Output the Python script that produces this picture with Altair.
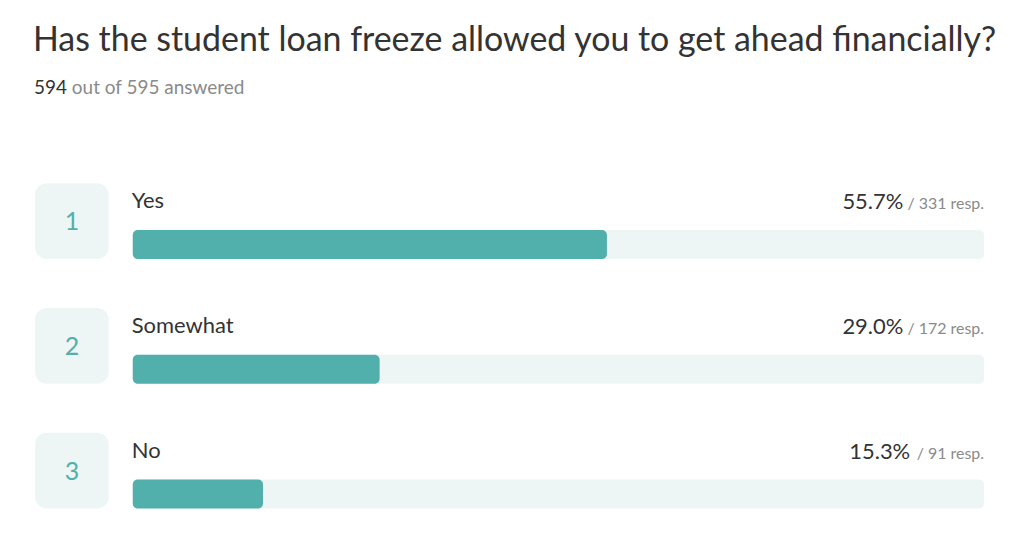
import altair as alt
import pandas as pd

title_text = "Has the student loan freeze allowed you to get ahead financially?"
answered = 594
total = 595
ranks = [1, 2, 3]
options = ["Yes", "Somewhat", "No"]
percents = [55.7, 29.0, 15.3]
responses = [331, 172, 91]

df = pd.DataFrame({
    "rank": ranks,
    "option": options,
    "percent": percents,
    "responses": responses,
})
df["pct_label"] = [f"{p:.1f}%" for p in percents]
df["resp_label"] = [f"/ {r} resp." for r in responses]

FONT = "Lato"
DARK = "#333333"
GRAY = "#8a8a8a"
TEAL = "#52b0ac"
LIGHT = "#eef6f5"
W = 1008
xscale = alt.Scale(domain=[0, 100], range=[124, 977])

header_df = pd.DataFrame({
    "title": [title_text],
    "answered": [str(answered)],
    "rest": [f"out of {total} answered"],
})
hbase = alt.Chart(header_df)
h_title = hbase.mark_text(align="left", baseline="alphabetic", font=FONT,
                          fontSize=34, color=DARK).encode(
    x=alt.value(24), y=alt.value(42), text="title:N")
h_num = hbase.mark_text(align="left", baseline="alphabetic", font=FONT,
                        fontSize=19, color=DARK).encode(
    x=alt.value(25), y=alt.value(85), text="answered:N")
h_rest = hbase.mark_text(align="left", baseline="alphabetic", font=FONT,
                         fontSize=19, color=GRAY).encode(
    x=alt.value(63), y=alt.value(85), text="rest:N")
header = alt.layer(h_title, h_num, h_rest).properties(width=W, height=125)


def row_chart(i):
    base = alt.Chart(df).transform_filter(alt.datum.rank == ranks[i]).transform_calculate(
        start="0", end="100")
    resp_w = len(df["resp_label"][i]) * 6.9 + 5
    box = base.mark_rect(color=LIGHT, cornerRadius=12).encode(
        x=alt.value(26), x2=alt.value(100), y=alt.value(0), y2=alt.value(76))
    num = base.mark_text(font=FONT, fontSize=25, color=TEAL).encode(
        x=alt.value(63), y=alt.value(39), text="rank:N")
    label = base.mark_text(align="left", baseline="alphabetic", font=FONT,
                           fontSize=22, color=DARK).encode(
        x=alt.value(123), y=alt.value(25), text="option:N")
    track = base.mark_rect(color=LIGHT, cornerRadius=5).encode(
        x=alt.X("start:Q", scale=xscale, axis=None), x2="end:Q",
        y=alt.value(47), y2=alt.value(76))
    fill = base.mark_rect(color=TEAL, cornerRadius=5).encode(
        x=alt.X("start:Q", scale=xscale, axis=None), x2="percent:Q",
        y=alt.value(47), y2=alt.value(76))
    pct = base.mark_text(align="right", baseline="alphabetic", font=FONT,
                         fontSize=22, color=DARK, dx=-resp_w).encode(
        x=alt.X("end:Q", scale=xscale, axis=None), y=alt.value(26),
        text="pct_label:N")
    resp = base.mark_text(align="right", baseline="alphabetic", font=FONT,
                          fontSize=16, color=GRAY).encode(
        x=alt.X("end:Q", scale=xscale, axis=None), y=alt.value(26),
        text="resp_label:N")
    return alt.layer(box, num, label, track, fill, pct, resp).properties(
        width=W, height=76)


chart = alt.vconcat(header, row_chart(0), row_chart(1), row_chart(2),
                    spacing=49, bounds="flush").properties(
    padding=0, background="white"
).configure_view(stroke="transparent")

chart.save("out.html", embed_options={"renderer": "svg", "actions": False})
